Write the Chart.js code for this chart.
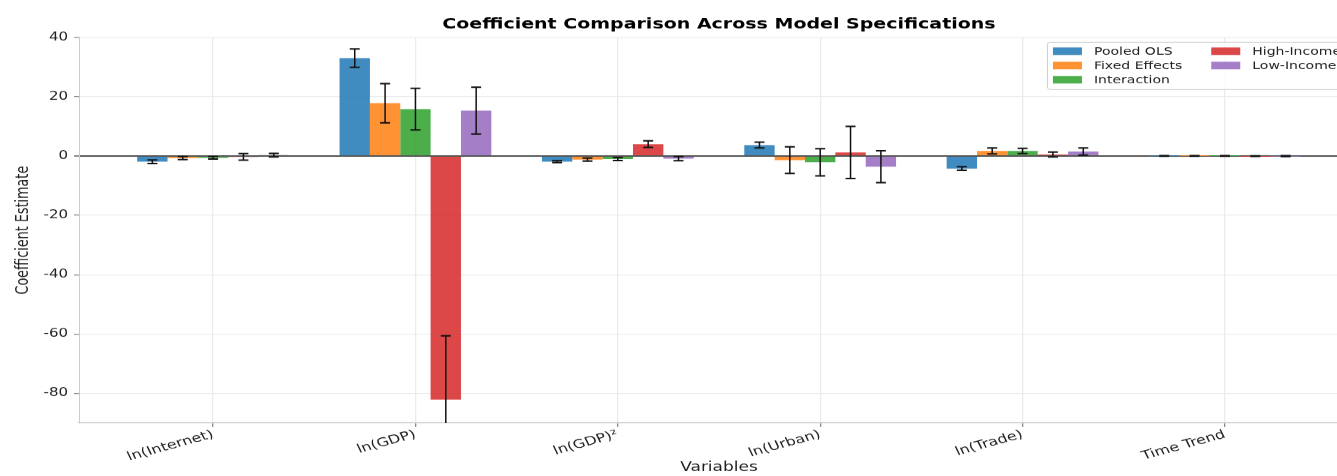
<!DOCTYPE html>
<html>
<head>
<meta charset="utf-8">
<title>Coefficient Comparison Across Model Specifications</title>
<script src="https://cdn.jsdelivr.net/npm/chart.js@4.4.1/dist/chart.umd.min.js"></script>
<style>
  html, body { margin: 0; padding: 0; background: #fff; overflow: hidden; }
  /* the reference figure is squashed vertically, so draw taller and scale down */
  #wrap { width: 1400px; height: 635px; transform: scaleY(0.75); transform-origin: 0 0; }
  #coefChart { width: 1400px; height: 635px; display: block; }
</style>
</head>
<body>
<div id="wrap"><canvas id="coefChart" width="1400" height="635"></canvas></div>
<script>
const variables = ['ln(Internet)', 'ln(GDP)', 'ln(GDP)²', 'ln(Urban)', 'ln(Trade)', 'Time Trend'];
const models = ['Pooled OLS', 'Fixed Effects', 'Interaction', 'High-Income', 'Low-Income'];
const modelColors = [
  'rgba(31,119,180,0.85)',
  'rgba(255,127,14,0.85)',
  'rgba(44,160,44,0.85)',
  'rgba(214,39,40,0.85)',
  'rgba(148,103,189,0.85)'
];

const pooledOls = [-1.9, 33.0, -1.9, 3.7, -4.2, 0.03];
const pooledOlsErr = [0.6, 3.1, 0.3, 1.0, 0.6, 0.1];
const fixedEffects = [-0.7, 17.8, -1.2, -1.4, 1.7, 0.02];
const fixedEffectsErr = [0.5, 6.6, 0.5, 4.5, 1.0, 0.1];
const interaction = [-0.6, 15.8, -1.0, -2.1, 1.7, 0.02];
const interactionErr = [0.4, 7.0, 0.5, 4.6, 0.9, 0.1];
const highIncome = [-0.3, -82.1, 4.0, 1.2, 0.5, -0.02];
const highIncomeErr = [1.1, 21.5, 1.1, 8.8, 0.8, 0.1];
const lowIncome = [0.3, 15.3, -0.9, -3.6, 1.5, -0.05];
const lowIncomeErr = [0.6, 7.9, 0.7, 5.4, 1.2, 0.15];

const seriesValues = [pooledOls, fixedEffects, interaction, highIncome, lowIncome];
const seriesErrors = [pooledOlsErr, fixedEffectsErr, interactionErr, highIncomeErr, lowIncomeErr];
const yTicks = [-80, -60, -40, -20, 0, 20, 40];

const FONT = '"DejaVu Sans", sans-serif';

// black error bars with caps, clipped to the plot area
const errorBars = {
  id: 'errorBars',
  afterDatasetsDraw(chart) {
    const { ctx, chartArea, scales: { y } } = chart;
    ctx.save();
    ctx.beginPath();
    ctx.rect(chartArea.left, chartArea.top, chartArea.width, chartArea.height);
    ctx.clip();
    ctx.strokeStyle = '#111';
    chart.data.datasets.forEach((ds, i) => {
      chart.getDatasetMeta(i).data.forEach((bar, j) => {
        const v = seriesValues[i][j], e = seriesErrors[i][j];
        const top = y.getPixelForValue(v + e);
        const bot = y.getPixelForValue(v - e);
        ctx.lineWidth = 1.5;
        ctx.beginPath();
        ctx.moveTo(bar.x, top);
        ctx.lineTo(bar.x, bot);
        ctx.stroke();
        ctx.lineWidth = 2;
        ctx.beginPath();
        ctx.moveTo(bar.x - 5, top); ctx.lineTo(bar.x + 5, top);
        ctx.moveTo(bar.x - 5, bot); ctx.lineTo(bar.x + 5, bot);
        ctx.stroke();
      });
    });
    ctx.restore();
  }
};

// two-column legend in the upper right corner, filled column first
const boxLegend = {
  id: 'boxLegend',
  afterDraw(chart) {
    const { ctx, chartArea } = chart;
    const sw = 29, sh = 10, gap = 12, pad = 6, colGap = 29, rowH = 19;
    const cols = [[0, 1, 2], [3, 4]];
    ctx.save();
    ctx.font = '14px ' + FONT;
    const colW = cols.map(c => Math.max(...c.map(i => ctx.measureText(models[i]).width)));
    const width = pad * 2 + cols.length * (sw + gap) + colW[0] + colW[1] + colGap;
    const height = 63;
    const left = chartArea.right - 12 - width;
    const top = chartArea.top + 6;
    ctx.fillStyle = 'rgba(255,255,255,0.8)';
    ctx.strokeStyle = '#cccccc';
    ctx.lineWidth = 1;
    ctx.beginPath();
    ctx.roundRect(left + 0.5, top + 0.5, width, height, 3);
    ctx.fill();
    ctx.stroke();
    ctx.textBaseline = 'middle';
    let x = left + pad;
    cols.forEach((c, ci) => {
      c.forEach((i, ri) => {
        const cy = top + 12.5 + ri * rowH;
        ctx.fillStyle = modelColors[i];
        ctx.fillRect(x, cy - sh / 2, sw, sh);
        ctx.fillStyle = '#222';
        ctx.fillText(models[i], x + sw + gap, cy + 1);
      });
      x += sw + gap + colW[ci] + colGap;
    });
    ctx.restore();
  }
};

const datasets = models.map((name, i) => ({
  label: name,
  data: seriesValues[i].map((v, j) => ({ x: j, y: v })),
  backgroundColor: modelColors[i],
  borderWidth: 0,
  categoryPercentage: 0.75,
  barPercentage: 1.0
}));

const ctx = document.getElementById('coefChart').getContext('2d');
new Chart(ctx, {
  type: 'bar',
  data: { datasets },
  plugins: [errorBars, boxLegend],
  options: {
    responsive: false,
    animation: false,
    layout: { padding: { left: 0, right: 41, top: 0, bottom: 0 } },
    plugins: {
      legend: { display: false },
      tooltip: { enabled: false },
      title: {
        display: true,
        fullSize: false,
        text: 'Coefficient Comparison Across Model Specifications',
        color: '#000',
        font: { family: FONT, size: 19, weight: 'bold' },
        padding: { top: 22, bottom: 5 }
      }
    },
    scales: {
      x: {
        type: 'linear',
        min: -0.6625,
        max: 5.6625,
        offset: false,
        afterBuildTicks: s => { s.ticks = variables.map((_, i) => ({ value: i })); },
        afterFit: s => { s.height = 71; },
        ticks: {
          callback: v => variables[v],
          autoSkip: false,
          minRotation: 20,
          maxRotation: 20,
          padding: 1,
          color: '#222',
          font: { family: FONT, size: 16 }
        },
        grid: { color: '#ebebeb', lineWidth: 1.3, offset: false, tickColor: '#888', tickLength: 5 },
        border: { color: '#cccccc', width: 1.3 },
        title: {
          display: true,
          text: 'Variables',
          color: '#222',
          font: { family: FONT, size: 17 },
          padding: { top: 0, bottom: 1 }
        }
      },
      y: {
        min: -90,
        max: 40,
        afterBuildTicks: s => { s.ticks = yTicks.map(v => ({ value: v })); },
        afterFit: s => { s.width = 79; },
        ticks: {
          padding: 6,
          color: '#222',
          font: { family: FONT, size: 15 }
        },
        grid: {
          color: c => (c.tick && c.tick.value === 0 ? '#555555' : '#ebebeb'),
          lineWidth: c => (c.tick && c.tick.value === 0 ? 2 : 1.3),
          tickColor: '#888',
          tickLength: 5
        },
        border: { color: '#cccccc', width: 1 },
        title: {
          display: true,
          text: 'Coefficient Estimate',
          color: '#222',
          font: { family: FONT, size: 17 },
          padding: { top: 13 }
        }
      }
    }
  }
});
</script>
</body>
</html>
